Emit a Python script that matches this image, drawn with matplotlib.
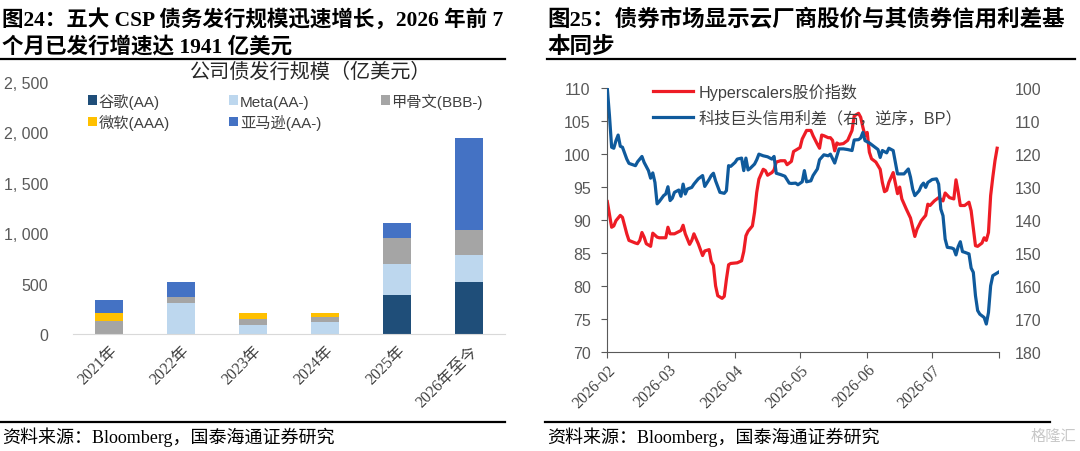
import matplotlib
matplotlib.use('Agg')
import matplotlib.pyplot as plt
import matplotlib.dates as mdates
from matplotlib.ticker import FuncFormatter
import numpy as np
import pandas as pd

plt.rcParams['font.family'] = ['Liberation Sans', 'Noto Sans CJK SC']
SERIF = ['Liberation Serif', 'Noto Sans CJK SC']

#%% 数据：图24 公司债发行规模（亿美元）
years = ['2021年', '2022年', '2023年', '2024年', '2025年', '2026年至今']
google = [0, 0, 0, 0, 385, 520]
meta = [0, 305, 90, 115, 305, 260]
oracle = [125, 65, 55, 55, 260, 250]
microsoft = [85, 0, 65, 40, 0, 0]
amazon = [125, 150, 0, 0, 155, 911]

#%% 数据：图25 股价指数与信用利差
red_dates = ['02-01', '02-03', '02-04', '02-05', '02-07', '02-08', '02-10', '02-11', '02-14', '02-15',
             '02-16', '02-17', '02-18', '02-19', '02-21', '02-22', '02-24', '02-25', '02-28', '03-01',
             '03-02', '03-04', '03-07', '03-08', '03-09', '03-11', '03-12', '03-13', '03-15', '03-17',
             '03-18', '03-20', '03-21', '03-22', '03-23', '03-24', '03-26', '03-27', '03-28', '03-29',
             '03-30', '04-02', '04-04', '04-05', '04-06', '04-07', '04-09', '04-10', '04-11', '04-12',
             '04-14', '04-15', '04-16', '04-18', '04-19', '04-20', '04-22', '04-24', '04-25', '04-27',
             '04-28', '04-30', '05-01', '05-02', '05-04', '05-06', '05-07', '05-09', '05-10', '05-11',
             '05-12', '05-14', '05-15', '05-16', '05-17', '05-18', '05-19', '05-21', '05-23', '05-25',
             '05-26', '05-28', '05-29', '05-30', '05-31', '06-01', '06-02', '06-03', '06-05', '06-07',
             '06-08', '06-09', '06-10', '06-11', '06-13', '06-14', '06-15', '06-16', '06-17', '06-19',
             '06-21', '06-23', '06-24', '06-26', '06-28', '06-29', '06-30', '07-02', '07-04', '07-06',
             '07-07', '07-09', '07-11', '07-12', '07-13', '07-14', '07-16', '07-18', '07-19', '07-21',
             '07-22', '07-24', '07-25', '07-26', '07-27', '07-28', '07-29', '07-30', '07-31']
red_vals = [92.8, 88.9, 89.1, 89.9, 90.7, 90.4, 87.9, 86.9, 86.5, 86.4,
            86.9, 88.1, 87.4, 86.4, 86.0, 88.0, 87.4, 87.3, 87.3, 88.9,
            87.9, 87.9, 88.4, 89.2, 87.9, 86.3, 86.9, 87.9, 86.4, 84.6,
            85.3, 85.5, 83.7, 83.1, 80.0, 78.5, 78.1, 78.4, 81.0, 83.2,
            83.4, 83.5, 83.8, 85.2, 87.6, 88.3, 89.1, 91.2, 94.2, 96.2,
            97.7, 97.5, 96.8, 97.2, 97.6, 98.8, 99.0, 99.0, 98.4, 98.9,
            100.4, 100.8, 101.0, 102.3, 103.6, 103.6, 102.8, 101.5, 100.9, 102.9,
            102.8, 102.5, 102.5, 102.1, 100.5, 101.7, 101.5, 101.6, 102.1, 103.6,
            105.8, 106.2, 105.6, 104.1, 102.8, 103.3, 100.3, 99.3, 98.8, 97.7,
            95.7, 94.3, 94.5, 95.7, 97.2, 95.6, 94.0, 95.0, 93.2, 91.7,
            90.3, 87.5, 88.6, 89.9, 90.7, 92.4, 92.2, 92.9, 93.4, 92.9,
            94.1, 93.4, 93.2, 96.1, 94.3, 92.2, 92.2, 92.7, 91.4, 86.1,
            86.0, 86.5, 87.3, 86.9, 88.1, 93.7, 96.5, 99.0, 100.9]

blue_dates = ['02-01', '02-02', '02-03', '02-04', '02-05', '02-06', '02-07', '02-08', '02-10', '02-11',
              '02-14', '02-15', '02-17', '02-18', '02-20', '02-21', '02-22', '02-23', '02-24', '02-25',
              '02-27', '02-28', '03-01', '03-02', '03-03', '03-04', '03-06', '03-07', '03-08', '03-09',
              '03-10', '03-12', '03-13', '03-15', '03-17', '03-18', '03-20', '03-21', '03-22', '03-23',
              '03-25', '03-27', '03-28', '03-29', '03-30', '04-01', '04-02', '04-04', '04-05', '04-06',
              '04-07', '04-08', '04-10', '04-11', '04-12', '04-14', '04-16', '04-18', '04-19', '04-20',
              '04-22', '04-24', '04-26', '04-27', '04-29', '04-30', '05-02', '05-03', '05-04', '05-06',
              '05-07', '05-09', '05-10', '05-12', '05-14', '05-15', '05-17', '05-18', '05-19', '05-21',
              '05-23', '05-25', '05-26', '05-28', '05-29', '05-30', '05-31', '06-02', '06-04', '06-06',
              '06-07', '06-08', '06-10', '06-11', '06-13', '06-14', '06-15', '06-17', '06-18', '06-20',
              '06-21', '06-22', '06-23', '06-25', '06-26', '06-27', '06-28', '06-29', '07-01', '07-03',
              '07-04', '07-05', '07-06', '07-07', '07-08', '07-10', '07-11', '07-12', '07-13', '07-14',
              '07-15', '07-16', '07-18', '07-19', '07-20', '07-21', '07-22', '07-23', '07-25', '07-26',
              '07-27', '07-28', '07-29', '07-31', '08-01']
blue_vals = [100.0, 108.3, 117.9, 118.2, 115.9, 114.2, 117.6, 117.9, 121.5, 122.8,
             123.5, 122.3, 120.7, 122.5, 125.0, 127.3, 125.7, 128.6, 135.1, 134.4,
             132.6, 132.1, 129.9, 134.1, 133.4, 131.6, 130.9, 132.8, 129.1, 132.1,
             130.6, 130.1, 129.1, 127.5, 126.5, 129.8, 127.7, 126.5, 125.8, 128.1,
             131.6, 131.9, 131.1, 123.5, 123.7, 122.5, 121.5, 121.2, 125.0, 121.2,
             124.8, 124.3, 123.0, 121.7, 120.0, 120.5, 120.8, 121.5, 120.7, 125.8,
             126.2, 126.7, 128.8, 128.9, 128.8, 129.3, 128.4, 125.0, 128.4, 128.1,
             126.5, 124.5, 121.7, 120.2, 120.5, 120.0, 122.7, 120.5, 118.4, 118.4,
             118.6, 118.9, 115.7, 115.6, 115.1, 113.4, 115.9, 116.6, 117.6, 118.6,
             121.0, 118.9, 119.6, 118.2, 118.9, 122.5, 126.0, 126.0, 126.0, 124.5,
             127.0, 130.6, 132.6, 131.1, 129.6, 128.8, 130.1, 128.6, 127.7, 127.5,
             129.1, 136.7, 138.7, 145.8, 148.3, 148.5, 148.8, 150.6, 148.1, 146.6,
             149.6, 149.8, 150.3, 154.6, 155.9, 163.0, 167.5, 168.6, 169.6, 171.6,
             168.1, 160.0, 156.9, 156.1, 155.7]

red_t = pd.to_datetime(['2026-' + d for d in red_dates])
blue_t = pd.to_datetime(['2026-' + d for d in blue_dates])

#%% 画布
fig = plt.figure(figsize=(10.8, 4.52), dpi=100)
W, H = 1080, 452

def fx(px):
    return px / W

def fy(py):
    return 1 - py / H

# 标题与分隔线
fig.text(fx(2), fy(20), '图24：五大 CSP 债务发行规模迅速增长，2026 年前 7', family=SERIF,
         fontsize=15.5, fontweight='bold', va='center', ha='left')
fig.text(fx(2), fy(47), '个月已发行增速达 1941 亿美元', family=SERIF,
         fontsize=15.5, fontweight='bold', va='center', ha='left')
fig.text(fx(547), fy(20), '图25：债券市场显示云厂商股价与其债券信用利差基', family=SERIF,
         fontsize=16.2, fontweight='bold', va='center', ha='left')
fig.text(fx(547), fy(47), '本同步', family=SERIF,
         fontsize=16.2, fontweight='bold', va='center', ha='left')

for x0, x1, y in [(0, 505, 60), (547, 1075, 60), (0, 505, 423), (545, 1050, 423)]:
    fig.add_artist(plt.Line2D([fx(x0), fx(x1)], [fy(y), fy(y)], color='black', lw=1.6))

fig.text(fx(2), fy(437), '资料来源：Bloomberg，国泰海通证券研究', family=SERIF,
         fontsize=13, va='center', ha='left')
fig.text(fx(547), fy(437), '资料来源：Bloomberg，国泰海通证券研究', family=SERIF,
         fontsize=13, va='center', ha='left')
fig.text(fx(1076), fy(437), '格隆汇', fontsize=11, color='#C8C8C8', va='center', ha='right')

#%% 图24 堆积柱状图
ax1 = fig.add_axes([fx(73), fy(335), fx(432), 252 / H])
x = np.arange(len(years))
series = [('谷歌(AA)', google, '#1F4E79'),
          ('Meta(AA-)', meta, '#BDD7EE'),
          ('甲骨文(BBB-)', oracle, '#A5A5A5'),
          ('微软(AAA)', microsoft, '#FFC000'),
          ('亚马逊(AA-)', amazon, '#4472C4')]
bottom = np.zeros(len(years))
handles = {}
for name, vals, col in series:
    b = ax1.bar(x, vals, 0.39, bottom=bottom, color=col, label=name)
    handles[name] = b
    bottom = bottom + np.array(vals)

ax1.set_xlim(-0.5, 5.5)
ax1.set_ylim(0, 2500)
ax1.set_yticks(range(0, 2501, 500))
ax1.yaxis.set_major_formatter(FuncFormatter(lambda v, p: f'{int(v):,}'.replace(',', ', ')))
ax1.set_xticks(x)
ax1.set_xticklabels(years, rotation=45, ha='right', rotation_mode='anchor',
                    family=SERIF, fontsize=11.5, color='#404040')
for s in ['top', 'right', 'left']:
    ax1.spines[s].set_visible(False)
ax1.spines['bottom'].set_color('#D9D9D9')
ax1.tick_params(axis='y', length=0, labelsize=11.5, labelcolor='#595959', pad=18)
ax1.tick_params(axis='x', length=0, pad=6)

ax1.set_title('公司债发行规模（亿美元）', fontsize=14.5, color='#262626', pad=0,
              x=0.55, y=1.02)
order = ['谷歌(AA)', '微软(AAA)', 'Meta(AA-)', '亚马逊(AA-)', '甲骨文(BBB-)']
fig.legend([handles[k] for k in order], order, loc='upper left',
           bbox_to_anchor=(fx(80), fy(86)), ncol=3, frameon=False, fontsize=11,
           handlelength=0.6, handleheight=0.6, handletextpad=0.1, columnspacing=3.9,
           labelspacing=0.35, borderpad=0, labelcolor='#404040')

#%% 图25 双轴折线图
ax2 = fig.add_axes([fx(607.3), fy(352.7), fx(392), 263.4 / H])
ax3 = ax2.twinx()
l1, = ax2.plot(red_t, red_vals, color='#EE1C25', lw=2.3, label='Hyperscalers股价指数')
l2, = ax3.plot(blue_t, blue_vals, color='#0F5A9C', lw=2.3, label='科技巨头信用利差（右，逆序，BP）')

ax2.set_ylim(70, 110)
ax2.set_yticks(range(70, 111, 5))
ax3.set_ylim(180, 100)
ax3.set_yticks(range(100, 181, 10))
ax2.set_xlim(pd.Timestamp('2026-02-01'), pd.Timestamp('2026-08-01'))
ax2.xaxis.set_major_locator(mdates.MonthLocator())
ax2.xaxis.set_major_formatter(FuncFormatter(
    lambda v, p: mdates.num2date(v).strftime('%Y-%m') if mdates.num2date(v).month < 8 else ''))
plt.setp(ax2.get_xticklabels(), rotation=45, ha='right', rotation_mode='anchor',
         family=SERIF, fontsize=11.5, color='#404040')

for a in (ax2, ax3):
    a.spines['top'].set_visible(False)
    a.spines['right'].set_visible(False)
for s in ['left', 'bottom']:
    ax2.spines[s].set_color('#595959')
    ax3.spines[s].set_visible(False)
ax2.tick_params(axis='y', direction='out', length=4, color='#595959',
                labelsize=11.5, labelcolor='#595959', pad=8)
ax2.tick_params(axis='x', direction='out', length=4, color='#595959', pad=3)
ax3.tick_params(axis='y', length=0, labelsize=11.5, labelcolor='#595959', pad=11)

ax2.legend([l1, l2], [l1.get_label(), l2.get_label()], loc='upper left',
           bbox_to_anchor=(fx(645), fy(76)), bbox_transform=fig.transFigure,
           frameon=False, fontsize=11.6, handlelength=2.5, handletextpad=0.3,
           labelspacing=0.6, borderpad=0, labelcolor='#404040')

fig.savefig('out.png', dpi=100)
